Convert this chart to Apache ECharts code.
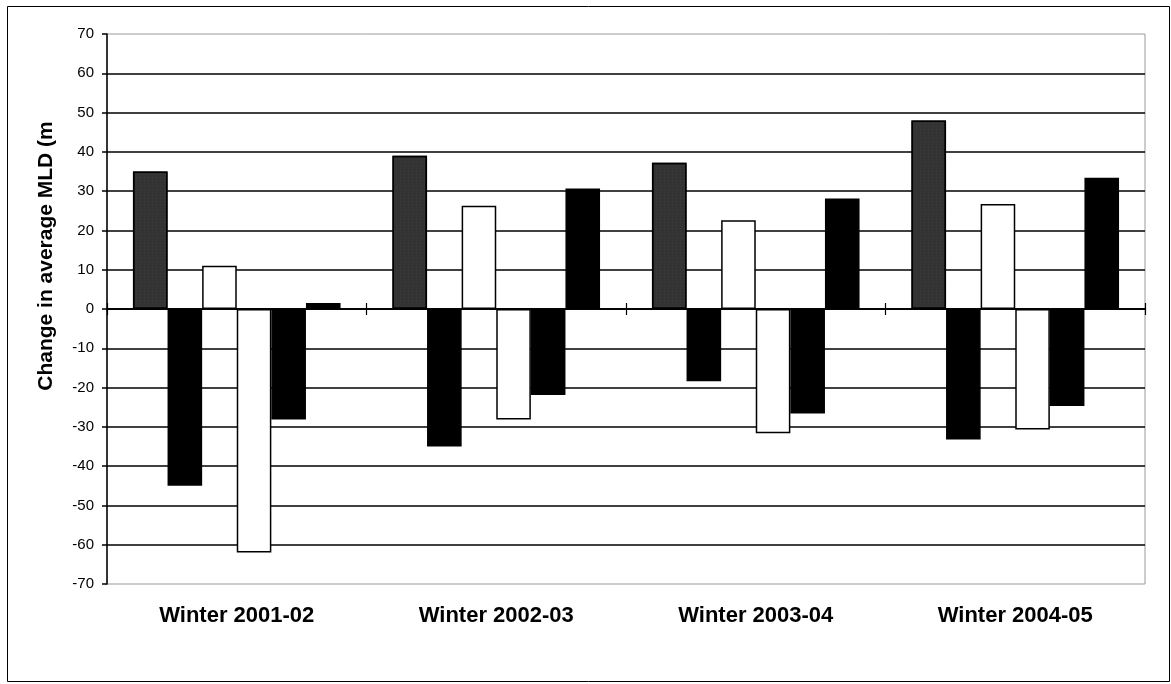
<!DOCTYPE html>
<html>
<head>
<meta charset="utf-8">
<script src="https://cdn.jsdelivr.net/npm/echarts@6/dist/echarts.min.js"></script>
<style>
html,body{margin:0;padding:0;background:#fff;}
#chart{width:1171px;height:684px;}
</style>
</head>
<body>
<div id="chart"></div>
<script>
// ---- data ----
const categories = ['Winter 2001-02', 'Winter 2002-03', 'Winter 2003-04', 'Winter 2004-05'];
const seriesA = [35, 39, 37.2, 48];      // dark stippled
const seriesB = [-45, -35, -18.4, -33.2]; // black
const seriesC = [11, 26.3, 22.6, 26.7];   // white
const seriesD = [-62, -28.1, -31.6, -30.7]; // white
const seriesE = [-28.1, -21.9, -26.6, -24.7]; // black
const seriesF = [1.5, 30.7, 28.1, 33.4];  // black
const yTicks = [-70, -60, -50, -40, -30, -20, -10, 0, 10, 20, 30, 40, 50, 60, 70];
const yTitle = 'Change in average MLD (m';

const chart = echarts.init(document.getElementById('chart'), null, {renderer: 'canvas'});

function bar(name, data, fill, decal) {
  const s = {
    name: name, type: 'bar', data: data, xAxisIndex: 0, yAxisIndex: 0,
    barGap: '0%', barCategoryGap: '20%',
    itemStyle: {color: fill, borderColor: '#000', borderWidth: 1.5},
    emphasis: {disabled: true}, animation: false
  };
  if (decal) s.itemStyle.decal = decal;
  return s;
}

const font = 'Arial, "Liberation Sans", sans-serif';
const yMin = yTicks[0], yMax = yTicks[yTicks.length - 1];

const option = {
  animation: false,
  backgroundColor: '#fff',
  grid: {left: 107, right: 26, top: 34, bottom: 100, show: true, borderColor: '#9a9a9a', borderWidth: 1, backgroundColor: 'transparent'},
  xAxis: [
    {
      type: 'category', data: categories, position: 'bottom',
      axisLine: {onZero: true, onZeroAxisIndex: 0, lineStyle: {color: '#000', width: 1.5}},
      axisTick: {show: true, length: 6, inside: false, lineStyle: {color: '#000', width: 1.2}},
      axisLabel: {show: false}, splitLine: {show: false}
    },
    {
      type: 'category', data: categories, position: 'bottom',
      axisLine: {show: true, onZero: true, onZeroAxisIndex: 1, lineStyle: {color: '#000', width: 1.5}},
      axisTick: {show: true, length: 6, inside: true, lineStyle: {color: '#000', width: 1.2}},
      axisLabel: {show: false}, splitLine: {show: false}
    },
    {
      type: 'category', data: categories, position: 'bottom',
      axisLine: {show: false, onZero: false},
      axisTick: {show: false},
      axisLabel: {show: true, margin: 21, color: '#000', fontFamily: font, fontWeight: 'bold', fontSize: 22},
      splitLine: {show: false}
    }
  ],
  yAxis: [
    {
      type: 'value', min: yMin, max: yMax, interval: 10, position: 'left',
      name: yTitle, nameLocation: 'middle', nameRotate: 90, nameGap: 50,
      nameTextStyle: {color: '#000', fontFamily: font, fontWeight: 'bold', fontSize: 21, padding: [0, 0, 0, 106]},
      axisLine: {show: true, lineStyle: {color: '#000', width: 1.5}},
      axisTick: {show: true, length: 5, lineStyle: {color: '#000', width: 1.5}},
      axisLabel: {color: '#000', fontFamily: font, fontSize: 15, margin: 13},
      splitLine: {show: true, showMinLine: false, showMaxLine: false, lineStyle: {color: '#000', width: 1.6}}
    },
    {
      type: 'value', min: yMin, max: yMax, interval: 10, position: 'right',
      axisLine: {show: false}, axisTick: {show: false}, axisLabel: {show: false}, splitLine: {show: false}
    }
  ],
  graphic: [
    {type: 'rect', shape: {x: 7.5, y: 6.5, width: 1162, height: 675}, style: {fill: 'none', stroke: '#000', lineWidth: 1}, silent: true, z: -1}
  ],
  series: [
    bar('A', seriesA, '#333333', {symbol: 'rect', symbolSize: 0.35, color: 'rgba(190,190,190,0.35)', dashArrayX: [[1, 3]], dashArrayY: [1, 2], rotation: 0}),
    bar('B', seriesB, '#000'),
    bar('C', seriesC, '#fff'),
    bar('D', seriesD, '#fff'),
    bar('E', seriesE, '#000'),
    bar('F', seriesF, '#000')
  ]
};
chart.setOption(option);
</script>
</body>
</html>
